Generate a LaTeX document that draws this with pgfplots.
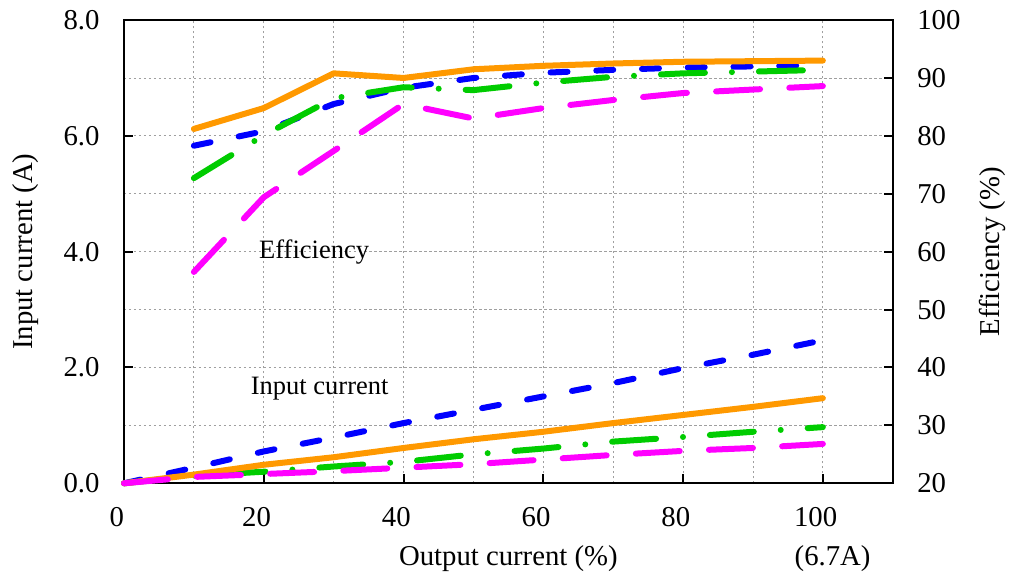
\documentclass[border=0pt]{standalone}
\usepackage{fontspec}
\setmainfont{Liberation Serif}
\usepackage{pgfplots}
\pgfplotsset{compat=1.18}

\definecolor{cOrange}{RGB}{255,153,0}
\definecolor{cBlue}{RGB}{0,0,255}
\definecolor{cGreen}{RGB}{0,204,0}
\definecolor{cMagenta}{RGB}{255,0,255}

\pgfplotsset{
  common/.style={
    scale only axis,
    width=307.5pt, height=185.3pt,
    xmin=0, xmax=110,
    /pgf/number format/assume math mode=true,
    tick label style={font=\fontsize{11.5}{13}\selectfont},
    label style={font=\fontsize{11.5}{13}\selectfont},
    axis line style={line width=0.8pt},
    major tick length=3.6pt,
    tick style={line width=0.8pt, black},
    tick align=inside,
  },
  blueline/.style={cBlue, line width=2.4pt, line cap=round, dash pattern=on 6.8pt off 11.5pt},
  greenline/.style={cGreen, line width=2.4pt, line cap=round, dash pattern=on 17.6pt off 10.8pt on 0pt off 10.8pt},
  orangeline/.style={cOrange, line width=2.4pt, line cap=round, line join=round},
  magline/.style={cMagenta, line width=2.4pt, line cap=round, dash pattern=on 17.6pt off 11.7pt},
}

\begin{document}
\begin{tikzpicture}
% ---- left axis: input current ----
\begin{axis}[
  common,
  ymin=0, ymax=8,
  xtick={0,20,...,100},
  minor xtick={10,30,...,110},
  ytick={0,2,...,8},
  minor ytick={1,3,5,7},
  minor tick length=0pt,
  xtick pos=bottom, ytick pos=left,
  grid=both,
  grid style={gray!75, line width=0.35pt, dash pattern=on 1pt off 1pt},
  minor grid style={gray!75, line width=0.35pt, dash pattern=on 1pt off 1pt},
  y tick label style={/pgf/number format/fixed, /pgf/number format/fixed zerofill, /pgf/number format/precision=1},
  yticklabel style={inner sep=0pt, xshift=-9.6pt},
  xticklabel style={inner sep=0pt, anchor=north, yshift=-9.4pt, xshift=-2.9pt},
  xlabel={Output current (\%)},
  xlabel style={at={(axis description cs:0.5,0)}, anchor=base, yshift=-32.7pt},
  ylabel={Input current (A)},
  ylabel style={at={(axis description cs:-0.1275,0.5)}, anchor=center},
  clip=false,
]
\addplot[blueline] coordinates {
  (0,0) (10,0.27) (20,0.55) (30,0.79) (40,1.04) (50,1.27)
  (60,1.50) (70,1.73) (80,1.99) (90,2.22) (100,2.47)
};
\addplot[greenline] coordinates {
  (0,0) (10,0.13) (20,0.20) (30,0.29) (40,0.37) (50,0.50)
  (60,0.60) (70,0.72) (80,0.80) (90,0.89) (100,0.97)
};
\addplot[orangeline] coordinates {
  (0,0) (10,0.15) (20,0.32) (30,0.45) (40,0.61) (50,0.76)
  (60,0.89) (70,1.04) (80,1.18) (90,1.32) (100,1.47)
};
\addplot[magline] coordinates {
  (0,0) (10,0.11) (20,0.16) (30,0.21) (40,0.27) (50,0.33)
  (60,0.41) (70,0.49) (80,0.56) (90,0.61) (100,0.68)
};
\node[anchor=base, inner sep=0pt, font=\fontsize{10.6}{12}\selectfont] at (axis cs:27.2,3.885) {Efficiency};
\node[anchor=base, inner sep=0pt, font=\fontsize{10.6}{12}\selectfont] at (axis cs:28.0,1.542) {Input current};
\node[anchor=base, inner sep=0pt, font=\fontsize{11.5}{13}\selectfont, xshift=3.9pt, yshift=-32.7pt] at (axis cs:100,0) {(6.7A)};
\end{axis}

% ---- right axis: efficiency ----
\begin{axis}[
  common,
  ymin=20, ymax=100,
  ytick={20,30,...,100},
  axis x line=none,
  axis y line*=right,
  yticklabel style={inner sep=0pt, anchor=west, xshift=9.6pt},
  ylabel={Efficiency (\%)},
  ylabel style={at={(axis description cs:1.130,0.5)}, anchor=center, rotate=0},
]
\addplot[blueline] coordinates {
  (10,78.3) (20,80.8) (30,85.5) (40,88.3) (50,90.0)
  (60,90.9) (70,91.4) (80,91.8) (90,92.0) (100,92.2)
};
\addplot[greenline] coordinates {
  (10,72.7) (20,80.1) (30,86.5) (40,88.4) (50,87.9)
  (60,89.2) (70,90.2) (80,90.8) (90,91.1) (100,91.4)
};
\addplot[orangeline] coordinates {
  (10,81.2) (20,84.8) (30,90.8) (40,90.0) (50,91.5)
  (60,92.1) (70,92.5) (80,92.8) (90,92.9) (100,93.0)
};
\addplot[magline] coordinates {
  (10,56.5) (20,69.4) (30,77.4) (40,85.5) (50,83.0)
  (60,84.8) (70,86.2) (80,87.4) (90,88.0) (100,88.6)
};
\end{axis}

\pgfresetboundingbox
\path (-49.6pt,-37.08pt) rectangle (355.2pt,193.32pt);
\end{tikzpicture}
\end{document}
